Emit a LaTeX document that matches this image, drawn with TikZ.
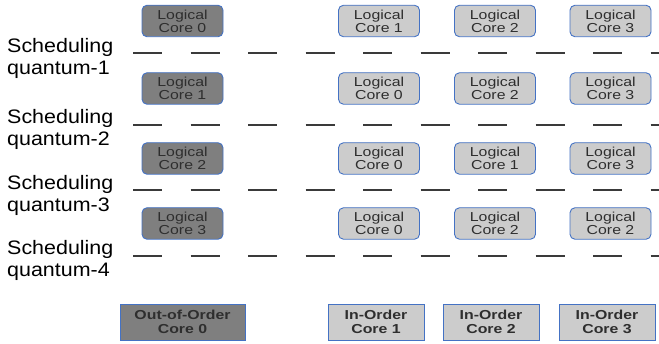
\documentclass[tikz,border=0pt]{standalone}
\usepackage{fontspec}
\setmainfont{Liberation Sans}
\newfontfamily\lblfont[FakeStretch=1.1]{Liberation Sans}
\newfontfamily\boxfont[FakeStretch=1.22]{Liberation Sans}
\definecolor{bordblue}{HTML}{4472C4}
\definecolor{darkfill}{HTML}{7F7F7F}
\definecolor{lightfill}{HTML}{CCCCCC}
\definecolor{txtdark}{HTML}{2E2E2E}
\definecolor{dashcol}{HTML}{3A3A3A}
\begin{document}
\begin{tikzpicture}[x=1pt,y=-1pt,
  lcore/.style={draw=bordblue, line width=0.9pt, rounded corners=5pt, minimum width=81pt, minimum height=31.5pt, inner sep=0pt, align=center, text=txtdark, font=\boxfont\fontsize{13}{13}\selectfont},
  darkcore/.style={lcore, fill=darkfill},
  lightcore/.style={lcore, fill=lightfill},
  physcore/.style={draw=bordblue, line width=0.9pt, minimum height=36pt, inner sep=0pt, align=center, text=txtdark, font=\boxfont\fontsize{13}{13.3}\selectfont\bfseries},
  lbl/.style={anchor=base west, inner sep=0pt, font=\lblfont\fontsize{19.5}{21.6}\selectfont},
  dashline/.style={draw=dashcol, line width=1.05pt, dash pattern=on 29pt off 28.5pt}
]
\useasboundingbox (0,0) rectangle (659,344);

% Row 1
\node[darkcore]  (r1a) at (182.5,21) {Logical\\Core 0};
\node[lightcore] (r1b) at (379,21) {Logical\\Core 1};
\node[lightcore] (r1c) at (495,21) {Logical\\Core 2};
\node[lightcore] (r1d) at (610.5,21) {Logical\\Core 3};
\node[lbl] (s1a) at (7,52.7) {Scheduling};
\node[lbl] (s1b) at (7,74.3) {quantum-1};
\coordinate (d1s) at (133,53);
\coordinate (d1e) at (659,53);
\draw[dashline] (d1s) -- (d1e);

% Row 2
\node[darkcore]  (r2a) at (182.5,88.5) {Logical\\Core 1};
\node[lightcore] (r2b) at (379,88.5) {Logical\\Core 0};
\node[lightcore] (r2c) at (495,88.5) {Logical\\Core 2};
\node[lightcore] (r2d) at (610.5,88.5) {Logical\\Core 3};
\node[lbl] (s2a) at (7,123.5) {Scheduling};
\node[lbl] (s2b) at (7,145.1) {quantum-2};
\coordinate (d2s) at (133,125);
\coordinate (d2e) at (659,125);
\draw[dashline] (d2s) -- (d2e);

% Row 3
\node[darkcore]  (r3a) at (182.5,158.5) {Logical\\Core 2};
\node[lightcore] (r3b) at (379,158.5) {Logical\\Core 0};
\node[lightcore] (r3c) at (495,158.5) {Logical\\Core 1};
\node[lightcore] (r3d) at (610.5,158.5) {Logical\\Core 3};
\node[lbl] (s3a) at (7,190) {Scheduling};
\node[lbl] (s3b) at (7,211.6) {quantum-3};
\coordinate (d3s) at (133,190);
\coordinate (d3e) at (659,190);
\draw[dashline] (d3s) -- (d3e);

% Row 4
\node[darkcore]  (r4a) at (182.5,223.5) {Logical\\Core 3};
\node[lightcore] (r4b) at (379,223.5) {Logical\\Core 0};
\node[lightcore] (r4c) at (495,223.5) {Logical\\Core 2};
\node[lightcore] (r4d) at (610.5,223.5) {Logical\\Core 2};
\node[lbl] (s4a) at (7,255) {Scheduling};
\node[lbl] (s4b) at (7,276.6) {quantum-4};
\coordinate (d4s) at (133,256);
\coordinate (d4e) at (659,256);
\draw[dashline] (d4s) -- (d4e);

% Physical cores
\node[physcore, fill=darkfill, minimum width=125pt] (p0) at (182.5,322) {Out-of-Order\\Core 0};
\node[physcore, fill=lightfill, minimum width=96pt] (p1) at (376,322) {In-Order\\Core 1};
\node[physcore, fill=lightfill, minimum width=96pt] (p2) at (491,322) {In-Order\\Core 2};
\node[physcore, fill=lightfill, minimum width=96pt] (p3) at (607,322) {In-Order\\Core 3};
\end{tikzpicture}
\end{document}
